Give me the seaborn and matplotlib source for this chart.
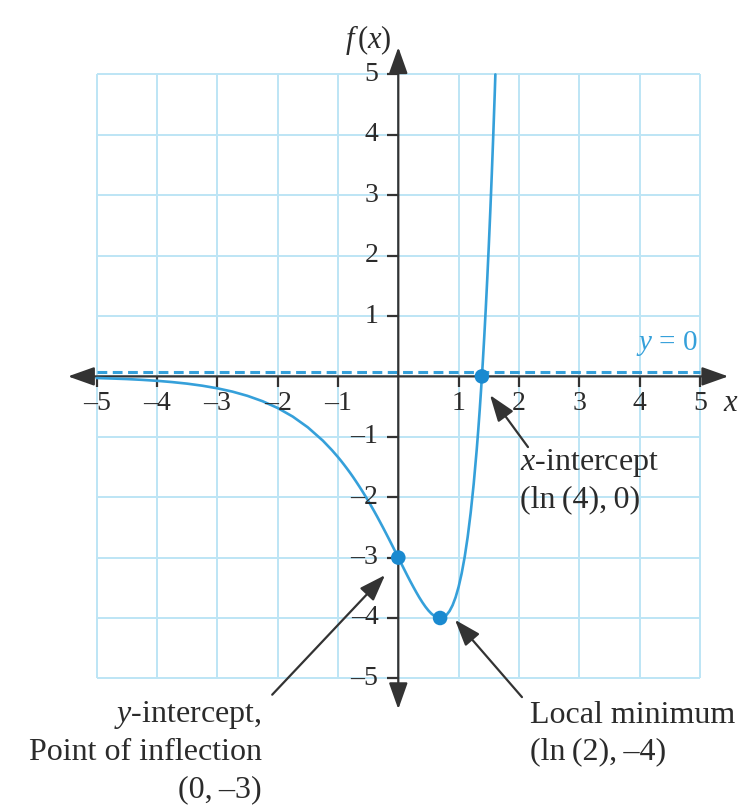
import matplotlib
matplotlib.use("Agg")
import matplotlib.pyplot as plt
import matplotlib.transforms as mtransforms
import seaborn as sns
import pandas as pd

# f(x) = e^(2x) - 4e^x, sampled along the drawn curve
curve_x = [-5.0, -4.75, -4.5, -4.25, -4.0, -3.75, -3.5, -3.25, -3.0, -2.75,
           -2.5, -2.25, -2.0, -1.75, -1.5, -1.25, -1.1,
           -1.0, -0.95, -0.9, -0.85, -0.8, -0.75, -0.7, -0.65, -0.6, -0.55,
           -0.5, -0.45, -0.4, -0.35, -0.3, -0.25, -0.2, -0.15, -0.1, -0.05,
           0.0, 0.05, 0.1, 0.15, 0.2, 0.25, 0.3, 0.35, 0.4, 0.45, 0.5, 0.55,
           0.6, 0.65, 0.693, 0.75, 0.8, 0.85, 0.9, 0.95, 1.0, 1.05, 1.1,
           1.15, 1.2, 1.25, 1.3, 1.325, 1.35, 1.375, 1.386, 1.4, 1.425, 1.45,
           1.475, 1.5, 1.525, 1.55, 1.575, 1.6, 1.609]
curve_y = [-0.027, -0.035, -0.044, -0.057, -0.073, -0.094, -0.120, -0.154,
           -0.197, -0.252, -0.322, -0.411, -0.523, -0.665, -0.843, -1.064,
           -1.221,
           -1.336, -1.397, -1.461, -1.527, -1.595, -1.666, -1.740, -1.816,
           -1.894, -1.975, -2.058, -2.144, -2.232, -2.322, -2.415, -2.509,
           -2.605, -2.702, -2.801, -2.900,
           -3.0, -3.100, -3.199, -3.298, -3.394, -3.487, -3.577, -3.663,
           -3.742, -3.814, -3.877, -3.929, -3.968, -3.993, -4.0, -3.986,
           -3.949, -3.885, -3.789, -3.657, -3.484, -3.264, -2.992, -2.659,
           -2.257, -1.779, -1.213, -0.894, -0.550, -0.178, 0.0, 0.224, 0.656,
           1.122, 1.622, 2.159, 2.735, 3.352, 4.013, 4.720, 5.0]

# key points: y-intercept, local minimum, x-intercept
key_x = [0.0, 0.693, 1.386]
key_y = [-3.0, -4.0, 0.0]

x_ticks = [-5, -4, -3, -2, -1, 1, 2, 3, 4, 5]
y_ticks = [5, 4, 3, 2, 1, -1, -2, -3, -4, -5]
grid_vals = [-5, -4, -3, -2, -1, 0, 1, 2, 3, 4, 5]

sns.set_style("white")
plt.rcParams["font.family"] = ["Liberation Serif", "DejaVu Serif"]
plt.rcParams["mathtext.fontset"] = "custom"
plt.rcParams["mathtext.rm"] = "Liberation Serif"
plt.rcParams["mathtext.it"] = "Liberation Serif:italic"

TXT = "#2b2b2b"
AX = "#333333"
GRID = "#bde5f5"
BLUE = "#35a0da"
DOT = "#1a8ad0"
LABEL_FS = 23
TICK_FS = 20

fig = plt.figure(figsize=(7.52, 8.08), dpi=100)
ax = fig.add_axes([0, 0, 1, 1])

# grid
ax.vlines(grid_vals, -5, 5, color=GRID, lw=1.4, zorder=1)
ax.hlines(grid_vals, -5, 5, color=GRID, lw=1.4, zorder=1)

# axes with arrowheads
arrow_kw = dict(arrowstyle="<|-|>,head_length=0.9,head_width=0.32",
                color=AX, lw=1.6, shrinkA=0, shrinkB=0, mutation_scale=18)
ax.annotate("", xy=(5.47, 0), xytext=(-5.475, 0), arrowprops=arrow_kw, zorder=3)
ax.annotate("", xy=(0, 5.45), xytext=(0, -5.51), arrowprops=arrow_kw, zorder=3)

# tick marks
for t in x_ticks:
    ax.plot([t, t], [0, -0.17], color=AX, lw=1.6, zorder=3, solid_capstyle="butt")
for t in y_ticks:
    ax.plot([0, -0.19], [t, t], color=AX, lw=1.6, zorder=3, solid_capstyle="butt")

# tick labels
def fmt(v):
    return str(v).replace("-", "\u2013")

for t in x_ticks:
    ax.text(t, -0.45, fmt(t), ha="center", va="center", fontsize=TICK_FS, color=TXT, zorder=5)
for t in y_ticks:
    ax.text(-0.33, t, fmt(t), ha="right", va="center", fontsize=TICK_FS, color=TXT, zorder=5)

# horizontal asymptote drawn just above the axis line
asym = mtransforms.offset_copy(ax.transData, fig=fig, x=0, y=4, units="dots")
ax.plot([-5, 5], [0, 0], color=BLUE, lw=2.2, ls=(0, (3.2, 1.8)), transform=asym, zorder=2)
ax.text(3.94, 0.55, r"$y$ = 0", ha="left", va="center", fontsize=21, color=BLUE)

# the curve and its key points
df = pd.DataFrame({"x": curve_x, "y": curve_y})
sns.lineplot(data=df, x="x", y="y", ax=ax, color=BLUE, lw=1.9, sort=False,
             estimator=None, zorder=4)
pts = pd.DataFrame({"x": key_x, "y": key_y})
sns.scatterplot(data=pts, x="x", y="y", ax=ax, color=DOT, s=110, edgecolor="none", zorder=6)
ax.set_xlim(-6.602, 5.863)
ax.set_ylim(-7.146, 6.232)
ax.axis("off")

# axis titles
ax.text(-0.50, 5.57, r"$f\,(x)$", ha="center", va="center", fontsize=22, color=TXT)
ax.text(5.51, -0.45, r"$x$", ha="center", va="center", fontsize=22, color=TXT)

# annotations
ann_kw = dict(arrowstyle="-|>,head_length=0.9,head_width=0.32", color=AX, lw=1.6,
              shrinkA=0, shrinkB=0, mutation_scale=18)
ax.annotate("", xy=(1.52, -0.31), xytext=(2.15, -1.17), arrowprops=ann_kw, zorder=5)
ax.text(2.02, -1.43, r"$x$-intercept", ha="left", va="center", fontsize=LABEL_FS, color=TXT)
ax.text(2.02, -2.05, "(ln\u2009(4),\u20090)", ha="left", va="center", fontsize=LABEL_FS, color=TXT)

ax.annotate("", xy=(0.94, -4.03), xytext=(2.05, -5.31), arrowprops=ann_kw, zorder=5)
ax.text(2.19, -5.61, "Local minimum", ha="left", va="center", fontsize=LABEL_FS, color=TXT)
ax.text(2.19, -6.22, "(ln\u2009(2),\u2009\u20134)", ha="left", va="center", fontsize=LABEL_FS, color=TXT)

ax.annotate("", xy=(-0.22, -3.29), xytext=(-2.09, -5.27), arrowprops=ann_kw, zorder=5)
ax.text(-2.26, -5.61, r"$y$-intercept,", ha="right", va="center", fontsize=LABEL_FS, color=TXT)
ax.text(-2.26, -6.22, "Point of inflection", ha="right", va="center", fontsize=LABEL_FS, color=TXT)
ax.text(-2.26, -6.85, "(0,\u2009\u20133)", ha="right", va="center", fontsize=LABEL_FS, color=TXT)

fig.savefig("out.png", dpi=100)
